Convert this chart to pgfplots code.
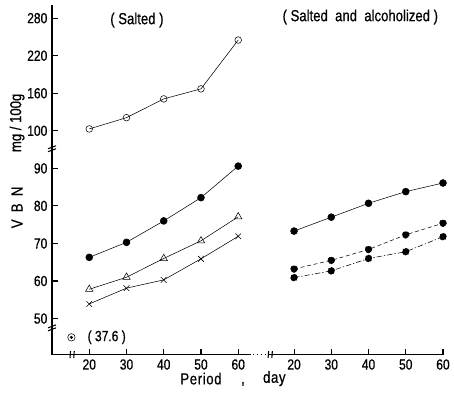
\documentclass[border=0pt]{standalone}
\usepackage{fontspec}
\setmainfont{Liberation Sans}[FakeStretch=0.82, FakeBold=0.6]
\usepackage{pgfplots}
\usepackage{pgfplotstable}
\pgfplotsset{compat=1.18}

% broken VBN scale: 37.6 squeezed under the lower break, 100-280 compressed 6:1
\pgfmathdeclarefunction{vbn}{1}{\pgfmathparse{ifthenelse(#1<38,#1+7.4,ifthenelse(#1<=95,#1,100+(#1-100)/6))}}

\pgfplotstableread{
day open filled tri cross
20 103 66.3 57.8 53.9
30 121 70.3 61.0 58.1
40 151 76.0 66.0 60.3
50 167 82.2 70.7 65.9
60 245 90.6 77.1 71.9
}\salted
\pgfplotstableread{
day solid dashed dashdot
20 73.3 63.2 60.9
30 77.0 65.5 62.7
40 80.7 68.4 66.0
50 83.8 72.3 67.8
60 86.1 75.4 71.8
}\alcohol
\pgfplotstableread{
day v
0 37.6
}\fresh

\begin{document}
\begin{tikzpicture}[x=1pt,y=1pt]
\begin{axis}[name=ax,
  scale only axis, width=293pt, height=262pt,
  xmin=10, xmax=115, ymin=40.4, ymax=133.5,
  axis lines=left, axis line style={-, line width=0.9pt},
  clip=false,
  tick align=inside, major tick length=4.2pt,
  tick style={line width=0.8pt, black},
  xtick={20,30,40,50,60,75,85,95,105,115},
  xticklabels={20,30,40,50,60,20,30,40,50,60},
  ytick={50,60,70,80,90,100,110,120,130},
  yticklabels={50,60,70,80,90,100,160,220,280},
  tick label style={font=\fontsize{11}{13}\selectfont},
  every plot/.append style={line width=0.95pt, black},
]
\addplot[mark=o, mark size=2.5pt] table[x=day, y expr={vbn(\thisrow{open})}] {\salted};
\addplot[mark=*, mark size=2.6pt] table[x=day, y expr={vbn(\thisrow{filled})}] {\salted};
\addplot[mark=triangle, mark size=3.2pt] table[x=day, y expr={vbn(\thisrow{tri})}] {\salted};
\addplot[mark=x, mark size=3pt] table[x=day, y expr={vbn(\thisrow{cross})}] {\salted};

\addplot[mark=*, mark size=2.6pt] table[x expr={\thisrow{day}+55}, y expr={vbn(\thisrow{solid})}] {\alcohol};
\addplot[mark=*, mark size=2.6pt, dash pattern=on 3pt off 2pt] table[x expr={\thisrow{day}+55}, y expr={vbn(\thisrow{dashed})}] {\alcohol};
\addplot[mark=*, mark size=2.6pt, dash pattern=on 4pt off 1.5pt on 1pt off 1.5pt] table[x expr={\thisrow{day}+55}, y expr={vbn(\thisrow{dashdot})}] {\alcohol};

\addplot[only marks, mark=o, mark size=2.8pt] table[x expr={\thisrow{day}+15.2}, y expr={vbn(\thisrow{v})}] {\fresh};
\addplot[only marks, mark=*, mark size=0.9pt] table[x expr={\thisrow{day}+15.2}, y expr={vbn(\thisrow{v})}] {\fresh};

\node[anchor=west, font=\fontsize{11}{13}\selectfont] at (axis cs:18.3,45) {( 37.6 )};
\node[font=\fontsize{12}{14}\selectfont] at (axis cs:32.8,129.5) {( Salted )};
\node[font=\fontsize{12}{14}\selectfont] at (axis cs:92.8,130.3) {( Salted \ and \ alcoholized )};
\node[rotate=90, font=\fontsize{12}{14}\selectfont] at (axis cs:0.6,102.1) {mg / 100g};
\node[rotate=90, font=\fontsize{12}{14}\selectfont] at (axis cs:0.6,79.6) {V\ \ B\ \ N};
\node[font=\fontsize{12}{14}\selectfont\addfontfeature{LetterSpace=4}] at (axis cs:50,34) {Period};
\node[inner sep=0pt, font=\fontsize{12}{14}\selectfont] at (axis cs:61.3,32.6) {,};
\node[font=\fontsize{12}{14}\selectfont\addfontfeature{LetterSpace=4}] at (axis cs:69.7,34) {day};

% axis breaks
\draw[white, line width=1.8pt] (axis cs:63,40.4) -- (axis cs:68.4,40.4);
\draw[dotted, line width=0.9pt] (axis cs:63,40.4) -- (axis cs:68.4,40.4);
\pgfplotsinvokeforeach{95.3,47.6}{
  \draw[line width=0.8pt] ([shift={(-3pt,-2.4pt)}]axis cs:10,#1) to[out=40,in=220] ([shift={(3pt,-0.2pt)}]axis cs:10,#1);
  \draw[line width=0.8pt] ([shift={(-3pt,-0.2pt)}]axis cs:10,#1) to[out=40,in=220] ([shift={(3pt,2pt)}]axis cs:10,#1);
}
\pgfplotsinvokeforeach{15.4,68.6}{
  \draw[white, line width=2pt] ([shift={(-1pt,0)}]axis cs:#1,40.4) -- ([shift={(1pt,0)}]axis cs:#1,40.4);
  \draw[line width=0.8pt] ([shift={(-1.6pt,-2.6pt)}]axis cs:#1,40.4) to[out=70,in=250] ([shift={(-1.2pt,2.6pt)}]axis cs:#1,40.4);
  \draw[line width=0.8pt] ([shift={(1.2pt,-2.6pt)}]axis cs:#1,40.4) to[out=70,in=250] ([shift={(1.6pt,2.6pt)}]axis cs:#1,40.4);
}
\end{axis}
\pgfresetboundingbox
\path ([shift={(-39pt,-35.25pt)}]ax.south west) rectangle ([shift={(8.25pt,3.75pt)}]ax.north east);
\end{tikzpicture}
\end{document}
